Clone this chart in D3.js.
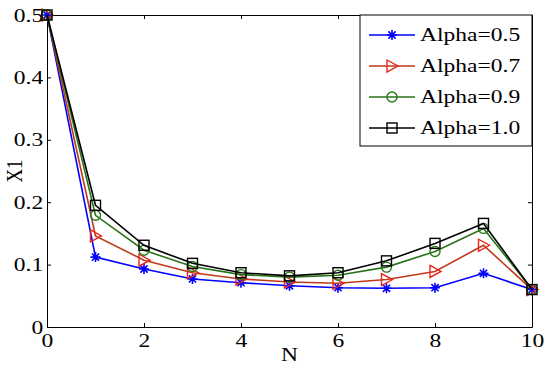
<!DOCTYPE html>
<html>
<head>
<meta charset="utf-8">
<script src="https://cdn.jsdelivr.net/npm/d3@7"></script>
<style>
	body { margin: 0; background: #fff; }
	svg text { font-family: 'Liberation Serif', 'Times New Roman', serif; }
</style>
</head>
<body>
<svg id="chart" width="550" height="367"></svg>
<script>
	var nValues = [0, 1, 2, 3, 4, 5, 6, 7, 8, 9, 10];
	var alpha05 = [0.5, 0.112, 0.093, 0.077, 0.071, 0.066, 0.063, 0.062, 0.063, 0.086, 0.060];
	var alpha07 = [0.5, 0.146, 0.107, 0.087, 0.077, 0.072, 0.070, 0.076, 0.089, 0.131, 0.060];
	var alpha09 = [0.5, 0.179, 0.123, 0.097, 0.084, 0.080, 0.083, 0.096, 0.121, 0.158, 0.060];
	var alpha10 = [0.5, 0.195, 0.131, 0.102, 0.087, 0.082, 0.087, 0.106, 0.134, 0.166, 0.060];
	var seriesNames = ['Alpha=0.5', 'Alpha=0.7', 'Alpha=0.9', 'Alpha=1.0'];
	var xTicks = [0, 2, 4, 6, 8, 10];
	var yTicks = [0, 0.1, 0.2, 0.3, 0.4, 0.5];

	var styles = [
		{ line: '#0000ff', marker: '#0000ff', shape: 'star' },
		{ line: '#c0391b', marker: '#e8261a', shape: 'tri' },
		{ line: '#2a7419', marker: '#2a7a1a', shape: 'circle' },
		{ line: '#000000', marker: '#000000', shape: 'square' }
	];
	var allSeries = [alpha05, alpha07, alpha09, alpha10];

	var margin = {top: 15, right: 18, bottom: 40, left: 47};
	var width = 550 - margin.left - margin.right,
		height = 367 - margin.top - margin.bottom;
	var fs = 19;
	var stretch = 1.24; // text in the picture is wider than tall

	var svg = d3.select('#chart');
	var cont = svg.append('g')
		.attr('transform', 'translate(' + margin.left + ',' + margin.top + ')');

	var x = d3.scaleLinear().domain([0, 10]).range([0, width]);
	var y = d3.scaleLinear().domain([0, 0.5]).range([height, 0]);

	// Axes (ticks pointing inward, on all four sides)
	var gx = cont.append('g')
		.attr('transform', 'translate(0,' + height + ')')
		.call(d3.axisBottom(x).tickValues(xTicks).tickSize(-4).tickSizeOuter(0).tickPadding(7));
	gx.selectAll('text')
		.attr('font-size', fs)
		.attr('fill', '#000')
		.attr('transform', 'scale(' + stretch + ',1)');

	var gy = cont.append('g')
		.call(d3.axisLeft(y).tickValues(yTicks).tickSize(-4).tickSizeOuter(0).tickPadding(3)
			.tickFormat(function(d) { return d === 0 ? '0' : d3.format('.1f')(d); }));
	gy.selectAll('text')
		.attr('font-size', fs)
		.attr('fill', '#000')
		.attr('transform', 'scale(' + stretch + ',1)');

	cont.append('g')
		.call(d3.axisTop(x).tickValues(xTicks).tickSize(-4).tickSizeOuter(0).tickFormat(''));
	cont.append('g')
		.attr('transform', 'translate(' + width + ',0)')
		.call(d3.axisRight(y).tickValues(yTicks).tickSize(-4).tickSizeOuter(0).tickFormat(''));

	cont.selectAll('.domain').attr('stroke', '#000');
	cont.selectAll('.tick line').attr('stroke', '#000');

	// Axis labels
	cont.append('text')
		.attr('transform', 'translate(' + (width / 2) + ',' + (height + 34) + ') scale(' + stretch + ',1)')
		.attr('text-anchor', 'middle')
		.attr('font-size', fs)
		.text('N');

	cont.append('text')
		.attr('transform', 'translate(' + (-25) + ',' + (height / 2) + ') rotate(-90) scale(1,' + stretch + ')')
		.attr('text-anchor', 'middle')
		.attr('font-size', fs)
		.text('X1');

	// Markers
	function drawMarker(g, shape, color, cx, cy) {
		if (shape === 'star') {
			var r = 5;
			g.append('path')
				.attr('d', 'M' + (cx - r) + ',' + cy + 'L' + (cx + r) + ',' + cy +
					'M' + cx + ',' + (cy - r) + 'L' + cx + ',' + (cy + r) +
					'M' + (cx - 3.6) + ',' + (cy - 3.6) + 'L' + (cx + 3.6) + ',' + (cy + 3.6) +
					'M' + (cx - 3.6) + ',' + (cy + 3.6) + 'L' + (cx + 3.6) + ',' + (cy - 3.6))
				.attr('stroke', color).attr('stroke-width', 1.6).attr('fill', 'none');
		} else if (shape === 'tri') {
			g.append('path')
				.attr('d', 'M' + (cx - 5) + ',' + (cy - 6) + 'L' + (cx + 6) + ',' + cy + 'L' + (cx - 5) + ',' + (cy + 6) + 'Z')
				.attr('stroke', color).attr('stroke-width', 1.4).attr('fill', 'none');
		} else if (shape === 'circle') {
			g.append('circle')
				.attr('cx', cx).attr('cy', cy).attr('r', 5)
				.attr('stroke', color).attr('stroke-width', 1.4).attr('fill', 'none');
		} else {
			g.append('rect')
				.attr('x', cx - 5).attr('y', cy - 5).attr('width', 10).attr('height', 10)
				.attr('stroke', color).attr('stroke-width', 1.4).attr('fill', 'none');
		}
	}

	var line = d3.line()
		.x(function(d, i) { return x(nValues[i]); })
		.y(function(d) { return y(d); });

	allSeries.forEach(function(data, s) {
		var g = cont.append('g');
		g.append('path')
			.datum(data)
			.attr('fill', 'none')
			.attr('stroke', styles[s].line)
			.attr('stroke-width', 1.6)
			.attr('d', line);
		data.forEach(function(d, i) {
			drawMarker(g, styles[s].shape, styles[s].marker, x(nValues[i]), y(d));
		});
	});

	// Legend
	var legW = 172, legH = 131;
	var leg = cont.append('g')
		.attr('transform', 'translate(' + (width - legW) + ',0)');
	leg.append('rect')
		.attr('width', legW).attr('height', legH)
		.attr('fill', '#fff').attr('stroke', '#000').attr('stroke-width', 1);

	seriesNames.forEach(function(name, s) {
		var cy = 20 + s * 31;
		leg.append('line')
			.attr('x1', 9).attr('x2', 55).attr('y1', cy).attr('y2', cy)
			.attr('stroke', styles[s].line).attr('stroke-width', 1.6);
		drawMarker(leg, styles[s].shape, styles[s].marker, 32, cy);
		leg.append('text')
			.attr('transform', 'translate(60,' + (cy + 6) + ') scale(' + stretch + ',1)')
			.attr('font-size', fs)
			.text(name);
	});
</script>
</body>
</html>
